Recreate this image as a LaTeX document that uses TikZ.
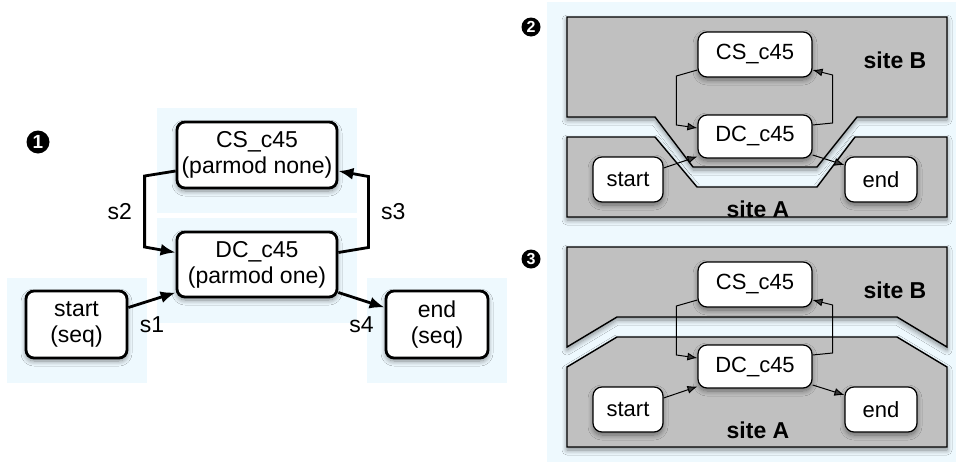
\documentclass[tikz,border=0pt]{standalone}
\usepackage{fontspec}
\setmainfont{Liberation Sans}
\usepackage{xcolor}
\usetikzlibrary{shapes, arrows.meta, calc, shadows.blur}
\definecolor{fondbleu}{HTML}{EEF9FE}
\definecolor{gris}{HTML}{C0C0C0}
\tikzstyle{ombre} = [blur shadow={shadow xshift=0pt, shadow yshift=-3pt, shadow blur radius=5pt, shadow blur steps=8, shadow opacity=45}]
\tikzstyle{grande} = [rectangle, rounded corners=8pt, draw=black, line width=2.8pt, fill=white, align=center, inner sep=0pt, font=\fontsize{23}{26}\selectfont, ombre]
\tikzstyle{petite} = [rectangle, rounded corners=9pt, draw=black, line width=1.2pt, fill=white, align=center, inner sep=0pt, minimum width=114pt, font=\fontsize{22}{25}\selectfont, ombre]
\tikzstyle{site} = [draw=black, line width=1.4pt, fill=gris, ombre]
\tikzstyle{lien} = [line width=2.8pt, -{Latex[length=15pt, width=12pt]}]
\tikzstyle{fleche} = [line width=1pt, -{Latex[length=10pt, width=8pt]}]
\tikzstyle{etiq} = [font=\fontsize{23}{26}\selectfont]
\tikzstyle{nomsite} = [font=\fontsize{23}{26}\selectfont\bfseries]
\tikzstyle{pastille} = [circle, fill=black, text=white, inner sep=0pt, font=\fontsize{19}{19}\selectfont\bfseries]

\begin{document}
\begin{tikzpicture}[x=1pt, y=-1pt]
    \useasboundingbox (0,0) rectangle (956,466);

    % fonds
    \fill[fondbleu] (157,108) rectangle (357,213);
    \fill[fondbleu] (157,218) rectangle (357,323);
    \fill[fondbleu] (7,278) rectangle (147,383);
    \fill[fondbleu] (367,278) rectangle (507,383);
    \fill[fondbleu] (547,2) rectangle (956,462);

    % 1
    \node (p1) [pastille, minimum size=23pt] at (38,142) {1};
    \node (cs1) [grande, minimum width=160pt, minimum height=66pt] at (257,155) {CS\_c45\\(parmod none)};
    \node (dc1) [grande, minimum width=160pt, minimum height=65pt] at (257,264.5) {DC\_c45\\(parmod one)};
    \node (start1) [grande, minimum width=101pt, minimum height=67pt] at (76.5,324.5) {start\\(seq)};
    \node (end1) [grande, minimum width=102pt, minimum height=67pt] at (437,324.5) {end\\(seq)};

    \draw[lien] ($(cs1.west)+(0,16)$) -- ++(-31,5) -- node[etiq, left=8pt]{s2} ++(0,71) -- ($(dc1.west)+(0,-12)$);
    \draw[lien] ($(dc1.east)+(0,-12)$) -- ++(30,-5) -- node[etiq, right=8pt]{s3} ++(0,-71) -- ($(cs1.east)+(0,16)$);
    \draw[lien] ($(start1.east)+(0,-17)$) -- node[etiq, below=12pt]{s1} ($(dc1.west)+(0,28)$);
    \draw[lien] ($(dc1.east)+(0,28)$) -- node[etiq, below=12pt]{s4} ($(end1.west)+(0,-17)$);

    % 2
    \node (p2) [pastille, minimum size=19pt, font=\fontsize{16}{16}\selectfont\bfseries] at (531,27) {2};
    \draw[site] (567,17) -- (947,17) -- (947,117) -- (857,117) -- (817,167) -- (693,167) -- (655,117) -- (567,117) -- cycle;
    \draw[site] (567,137) -- (655,137) -- (697,187) -- (817,187) -- (855,137) -- (947,137) -- (947,217) -- (567,217) -- cycle;
    \node (b2) [nomsite] at (895,60) {site B};
    \node (a2) [nomsite] at (758,209) {site A};
    \node (cs2) [petite, minimum height=45pt] at (755,54.5) {CS\_c45};
    \node (dc2) [petite, minimum height=43pt] at (755,136.5) {DC\_c45};
    \node (start2) [petite, minimum width=70pt, minimum height=45pt] at (628,179.5) {start};
    \node (end2) [petite, minimum width=72pt, minimum height=45pt] at (881,179.5) {end};

    \draw[fleche] ($(cs2.west)+(0,15.5)$) -- ++(-21,6) -- ++(0,49) -- ($(dc2.west)+(0,-8.5)$);
    \draw[fleche] ($(dc2.east)+(0,-11.5)$) -- ++(20,-2) -- ++(0,-48) -- ($(cs2.east)+(0,15.5)$);
    \draw[fleche] ($(start2.east)+(0,-11.5)$) -- ($(dc2.west)+(0,20)$);
    \draw[fleche] ($(dc2.east)+(0,18.5)$) -- ($(end2.west)+(0,-14.5)$);

    % 3
    \node (p3) [pastille, minimum size=19pt, font=\fontsize{16}{16}\selectfont\bfseries] at (531,259) {3};
    \draw[site] (567,247) -- (947,247) -- (947,347) -- (897,317) -- (617,317) -- (567,347) -- cycle;
    \draw[site] (567,367) -- (617,337) -- (897,337) -- (947,367) -- (947,447) -- (567,447) -- cycle;
    \node (b3) [nomsite] at (895,290) {site B};
    \node (a3) [nomsite] at (758,430) {site A};
    \node (cs3) [petite, minimum height=45pt] at (755,284.5) {CS\_c45};
    \node (dc3) [petite, minimum height=43pt] at (755,366.5) {DC\_c45};
    \node (start3) [petite, minimum width=70pt, minimum height=45pt] at (628,409.5) {start};
    \node (end3) [petite, minimum width=72pt, minimum height=45pt] at (881,409.5) {end};

    \draw[fleche] ($(cs3.west)+(0,15.5)$) -- ++(-21,6) -- ++(0,49) -- ($(dc3.west)+(0,-8.5)$);
    \draw[fleche] ($(dc3.east)+(0,-11.5)$) -- ++(20,-2) -- ++(0,-48) -- ($(cs3.east)+(0,15.5)$);
    \draw[fleche] ($(start3.east)+(0,-11.5)$) -- ($(dc3.west)+(0,20)$);
    \draw[fleche] ($(dc3.east)+(0,18.5)$) -- ($(end3.west)+(0,-14.5)$);
\end{tikzpicture}
\end{document}
